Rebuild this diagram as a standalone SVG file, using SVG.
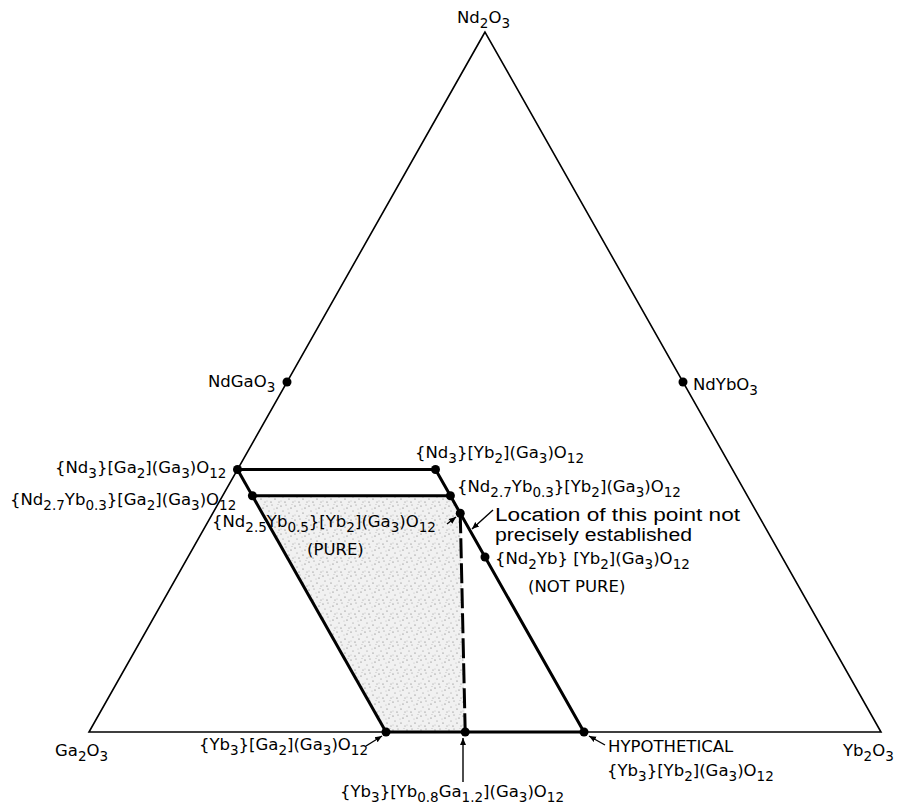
<svg xmlns="http://www.w3.org/2000/svg" width="901" height="807" viewBox="0 0 901 807">
<style>
text{font-family:"DejaVu Sans","Liberation Sans",sans-serif;font-size:16.5px;fill:#000}
.s{font-size:13.5px;baseline-shift:-5px}
.note{font-family:"Liberation Sans","DejaVu Sans",sans-serif;font-size:18px}
.edge{fill:none;stroke:#000;stroke-width:1.6}
.ph{fill:none;stroke:#000;stroke-width:3;stroke-linejoin:round}
.dash{fill:none;stroke:#000;stroke-width:3;stroke-dasharray:20 5}
.ar{fill:none;stroke:#000;stroke-width:1.4}
.dot{fill:#000}
</style>
<defs>
<pattern id="stip" width="14" height="14" patternUnits="userSpaceOnUse">
<rect width="14" height="14" fill="#f1f1f1"/>
<circle cx="1" cy="2" r="0.6" fill="#666"/><circle cx="6" cy="1" r="0.5" fill="#777"/>
<circle cx="11" cy="4" r="0.6" fill="#666"/><circle cx="3" cy="7" r="0.5" fill="#777"/>
<circle cx="9" cy="9" r="0.6" fill="#666"/><circle cx="13" cy="12" r="0.5" fill="#777"/>
<circle cx="5" cy="12" r="0.6" fill="#666"/><circle cx="8" cy="5" r="0.4" fill="#888"/>
<circle cx="1" cy="11" r="0.4" fill="#888"/><circle cx="12" cy="0.5" r="0.4" fill="#888"/>
</pattern>
<marker id="ah" markerWidth="8" markerHeight="8" refX="7" refY="4" orient="auto" markerUnits="userSpaceOnUse">
<path d="M0,1 L7,4 L0,7 Z" fill="#000"/>
</marker>
</defs>

<g id="region">
<polygon points="252.4,495.75 450.4,495.75 460.25,513.25 465.2,732 386,732" fill="url(#stip)"/>
</g>

<g id="triangle">
<polygon class="edge" points="485,32 89,732 881,732"/>
</g>

<g id="connectors">
<line class="ph" x1="237.5" y1="469.5" x2="435.5" y2="469.5"/>
<line class="ph" x1="252.4" y1="495.75" x2="450.4" y2="495.75"/>
<line class="ph" x1="237.5" y1="469.5" x2="386" y2="732"/>
<polyline class="ph" points="435.5,469.5 450.4,495.75 460.25,513.25 485,557 584,732"/>
<line class="ph" x1="386" y1="732" x2="584" y2="732"/>
<line class="dash" x1="460.25" y1="513.25" x2="465.2" y2="732"/>
<line class="ar" x1="447" y1="524" x2="456" y2="517" marker-end="url(#ah)"/>
<line class="ar" x1="493" y1="510" x2="472" y2="529" marker-end="url(#ah)"/>
<line class="ar" x1="366" y1="746" x2="382" y2="736" marker-end="url(#ah)"/>
<line class="ar" x1="605" y1="745" x2="589" y2="736" marker-end="url(#ah)"/>
<line class="ar" x1="463" y1="782" x2="463" y2="738" marker-end="url(#ah)"/>
</g>

<g id="n-Nd2O3"><text x="457" y="23">Nd<tspan class="s">2</tspan>O<tspan class="s">3</tspan></text></g>
<g id="n-Ga2O3"><text x="55" y="756">Ga<tspan class="s">2</tspan>O<tspan class="s">3</tspan></text></g>
<g id="n-Yb2O3"><text x="843" y="756">Yb<tspan class="s">2</tspan>O<tspan class="s">3</tspan></text></g>

<g id="n-NdGaO3"><circle class="dot" cx="287" cy="382" r="4.5"/><text x="208" y="387">NdGaO<tspan class="s">3</tspan></text></g>
<g id="n-NdYbO3"><circle class="dot" cx="683" cy="382" r="4.5"/><text x="693" y="390">NdYbO<tspan class="s">3</tspan></text></g>

<g id="n-Nd3Ga2"><circle class="dot" cx="237.5" cy="469.5" r="4.5"/><text x="55" y="473">{Nd<tspan class="s">3</tspan>}[Ga<tspan class="s">2</tspan>](Ga<tspan class="s">3</tspan>)O<tspan class="s">12</tspan></text></g>
<g id="n-Nd27Ga2"><circle class="dot" cx="252.4" cy="495.75" r="4.5"/><text x="10" y="505">{Nd<tspan class="s">2.7</tspan>Yb<tspan class="s">0.3</tspan>}[Ga<tspan class="s">2</tspan>](Ga<tspan class="s">3</tspan>)O<tspan class="s">12</tspan></text></g>
<g id="n-Nd3Yb2"><circle class="dot" cx="435.5" cy="469.5" r="4.5"/><text x="415" y="458">{Nd<tspan class="s">3</tspan>}[Yb<tspan class="s">2</tspan>](Ga<tspan class="s">3</tspan>)O<tspan class="s">12</tspan></text></g>
<g id="n-Nd27Yb2"><circle class="dot" cx="450.4" cy="495.75" r="4.5"/><text x="457" y="492">{Nd<tspan class="s">2.7</tspan>Yb<tspan class="s">0.3</tspan>}[Yb<tspan class="s">2</tspan>](Ga<tspan class="s">3</tspan>)O<tspan class="s">12</tspan></text></g>
<g id="n-Nd25Yb2"><circle class="dot" cx="460.25" cy="513.25" r="4.5"/><text x="212" y="527">{Nd<tspan class="s">2.5</tspan>Yb<tspan class="s">0.5</tspan>}[Yb<tspan class="s">2</tspan>](Ga<tspan class="s">3</tspan>)O<tspan class="s">12</tspan></text><text x="307" y="555">(PURE)</text></g>
<g id="n-note"><text class="note" x="495" y="521" textLength="245" lengthAdjust="spacingAndGlyphs">Location of this point not</text><text class="note" x="495" y="541" textLength="197" lengthAdjust="spacingAndGlyphs">precisely established</text></g>
<g id="n-Nd2Yb"><circle class="dot" cx="485" cy="557" r="4.5"/><text x="495" y="564">{Nd<tspan class="s">2</tspan>Yb} [Yb<tspan class="s">2</tspan>](Ga<tspan class="s">3</tspan>)O<tspan class="s">12</tspan></text><text x="528" y="592">(NOT PURE)</text></g>

<g id="n-Yb3Ga2"><circle class="dot" cx="386" cy="732" r="4.5"/><text x="368" y="750" text-anchor="end">{Yb<tspan class="s">3</tspan>}[Ga<tspan class="s">2</tspan>](Ga<tspan class="s">3</tspan>)O<tspan class="s">12</tspan></text></g>
<g id="n-Yb3Yb08"><circle class="dot" cx="465.2" cy="732" r="4.5"/><text x="340" y="797">{Yb<tspan class="s">3</tspan>}[Yb<tspan class="s">0.8</tspan>Ga<tspan class="s">1.2</tspan>](Ga<tspan class="s">3</tspan>)O<tspan class="s">12</tspan></text></g>
<g id="n-Yb3Yb2"><circle class="dot" cx="584" cy="732" r="4.5"/><text x="608" y="752">HYPOTHETICAL</text><text x="607" y="776">{Yb<tspan class="s">3</tspan>}[Yb<tspan class="s">2</tspan>](Ga<tspan class="s">3</tspan>)O<tspan class="s">12</tspan></text></g>
</svg>
